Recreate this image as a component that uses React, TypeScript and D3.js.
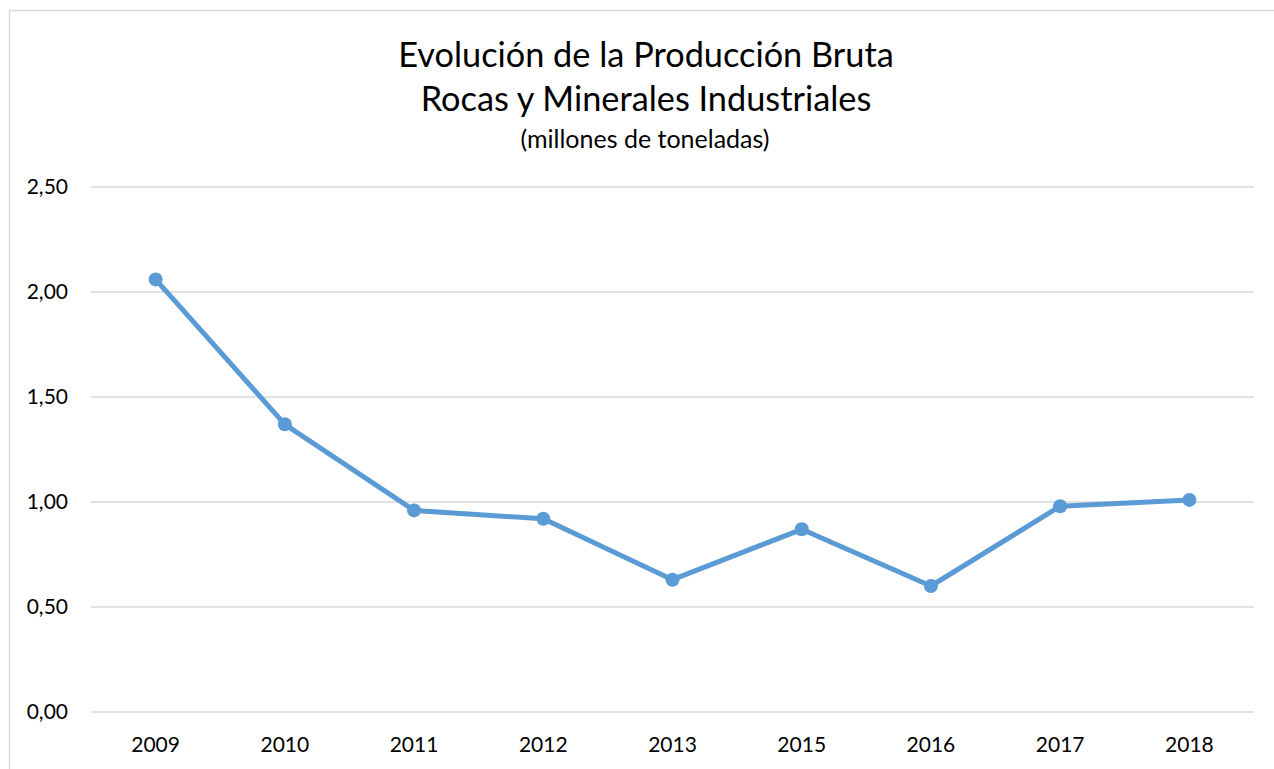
import React from "react";
import * as d3 from "d3";

const categories = ["2009", "2010", "2011", "2012", "2013", "2015", "2016", "2017", "2018"];
const values = [2.06, 1.37, 0.96, 0.92, 0.63, 0.87, 0.6, 0.98, 1.01];
const yTicks = [0, 0.5, 1, 1.5, 2, 2.5];
const titleLines = ["Evolución de la Producción Bruta", "Rocas y Minerales Industriales"];
const subtitle = "(millones de toneladas)";

const W = 1274;
const H = 769;
const FONT = "Lato, 'Open Sans', sans-serif";

export default function App() {
  const x = d3.scaleBand<string>().domain(categories).range([91, 1254]);
  const y = d3.scaleLinear().domain([0, 2.5]).range([712, 187]);
  const line = d3
    .line<number>()
    .x((_, i) => (x(categories[i]) as number) + x.bandwidth() / 2)
    .y((d) => y(d));
  const fmt = (v: number) => v.toFixed(2).replace(".", ",");

  return (
    <svg
      width={W}
      height={H}
      style={{ position: "fixed", left: 0, top: 0, background: "#fff" }}
      fontFamily={FONT}
    >
      <rect x={0} y={0} width={W} height={H} fill="#fff" />
      <path d={`M9.5,${H} V10.5 H${W}`} fill="none" stroke="#d9d9d9" strokeWidth={1.5} />
      <text x={646} y={67} textAnchor="middle" fontSize={34.3} fill="#000">
        {titleLines[0]}
      </text>
      <text x={646} y={111} textAnchor="middle" fontSize={34.3} fill="#000">
        {titleLines[1]}
      </text>
      <text x={645} y={148} textAnchor="middle" fontSize={25} fill="#000">
        {subtitle}
      </text>
      {yTicks.map((t) => (
        <g key={t}>
          <line x1={91} x2={1254} y1={y(t)} y2={y(t)} stroke="#d9d9d9" strokeWidth={1.5} />
          <text x={68} y={y(t)} dy="0.35em" textAnchor="end" fontSize={21} fill="#000">
            {fmt(t)}
          </text>
        </g>
      ))}
      {categories.map((c) => (
        <text
          key={c}
          x={(x(c) as number) + x.bandwidth() / 2}
          y={752}
          textAnchor="middle"
          fontSize={21}
          fill="#000"
        >
          {c}
        </text>
      ))}
      <path d={line(values) || ""} fill="none" stroke="#5b9bd5" strokeWidth={5} strokeLinejoin="round" />
      {values.map((v, i) => (
        <circle
          key={i}
          cx={(x(categories[i]) as number) + x.bandwidth() / 2}
          cy={y(v)}
          r={7}
          fill="#5b9bd5"
        />
      ))}
    </svg>
  );
}
